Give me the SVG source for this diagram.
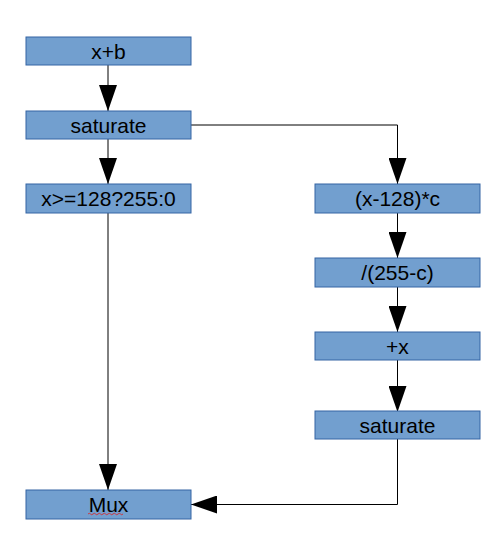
<svg xmlns="http://www.w3.org/2000/svg" width="497" height="542" viewBox="0 0 497 542">
<style>
.box{fill:#729fcf;stroke:#3465a4;stroke-width:1}
.lbl{font-family:"Liberation Sans",Arial,sans-serif;font-size:21px;fill:#000;text-anchor:middle;dominant-baseline:central}
.conn{fill:none;stroke:#000;stroke-width:1}
</style>
<defs>
<marker id="ah" markerUnits="userSpaceOnUse" markerWidth="26" markerHeight="18" refX="26" refY="9" orient="auto">
<path d="M0,0 L26,9 L0,18 Z" fill="#000"/>
</marker>
</defs>
<rect width="497" height="542" fill="#fff"/>
<g id="connectors">
<path class="conn" d="M108,65 V111" marker-end="url(#ah)"/>
<path class="conn" d="M108,139 V184" marker-end="url(#ah)"/>
<path class="conn" d="M191,125 H397.5 V184" marker-end="url(#ah)"/>
<path class="conn" d="M108,213 V490" marker-end="url(#ah)"/>
<path class="conn" d="M397.5,213 V258" marker-end="url(#ah)"/>
<path class="conn" d="M397.5,287 V332" marker-end="url(#ah)"/>
<path class="conn" d="M397.5,360 V412" marker-end="url(#ah)"/>
<path class="conn" d="M397.5,439 V504.5 H191" marker-end="url(#ah)"/>
</g>
<g id="n1"><rect class="box" x="26" y="37" width="165" height="28"/><text class="lbl" x="108.5" y="51">x+b</text></g>
<g id="n2"><rect class="box" x="26" y="111" width="165" height="28"/><text class="lbl" x="108.5" y="125">saturate</text></g>
<g id="n3"><rect class="box" x="26" y="184" width="165" height="29"/><text class="lbl" x="108.5" y="198.5">x&gt;=128?255:0</text></g>
<g id="n4"><rect class="box" x="315" y="184" width="165" height="29"/><text class="lbl" x="397.5" y="198.5">(x-128)*c</text></g>
<g id="n5"><rect class="box" x="315" y="258" width="165" height="29"/><text class="lbl" x="397.5" y="272.5">/(255-c)</text></g>
<g id="n6"><rect class="box" x="315" y="332" width="165" height="28"/><text class="lbl" x="397.5" y="346">+x</text></g>
<g id="n7"><rect class="box" x="315" y="411" width="165" height="28"/><text class="lbl" x="397.5" y="425">saturate</text></g>
<g id="n8"><rect class="box" x="26" y="490" width="165" height="29"/><text class="lbl" x="108.5" y="504.5">Mux</text>
<path d="M88,514 q1.25,-1.5 2.5,0 t2.5,0 t2.5,0 t2.5,0 t2.5,0 t2.5,0 t2.5,0 t2.5,0 t2.5,0 t2.5,0 t2.5,0 t2.5,0 t2.5,0 t2.5,0" fill="none" stroke="#e0201f" stroke-width="0.8"/></g>
</svg>
